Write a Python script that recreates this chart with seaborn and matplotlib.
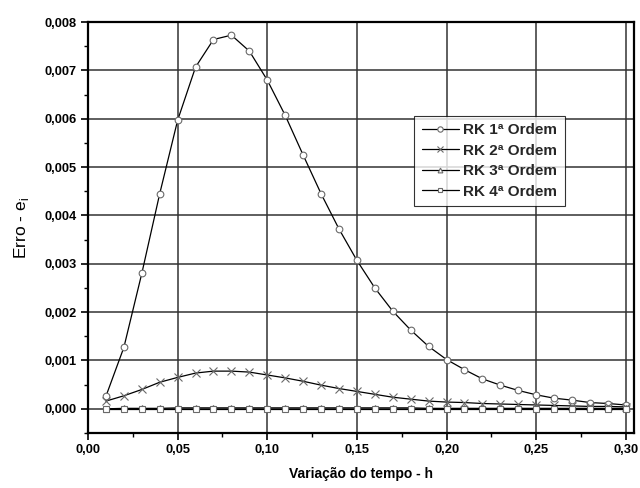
"""Erro por passo de tempo para Runge-Kutta de 1a a 4a ordem."""

import matplotlib

matplotlib.use("Agg")
import matplotlib.pyplot as plt
import pandas as pd
import seaborn as sns
from matplotlib.ticker import FuncFormatter, MultipleLocator

sns.set_theme(style="white")
plt.rcParams["font.family"] = ["Liberation Sans", "DejaVu Sans"]

H = [round(0.01 * i, 2) for i in range(1, 31)]

RK1 = [0.00026, 0.00127, 0.00280, 0.00445, 0.00597, 0.00707, 0.00764, 0.00773,
       0.00740, 0.00680, 0.00607, 0.00525, 0.00445, 0.00372, 0.00307, 0.00250,
       0.00202, 0.00163, 0.00129, 0.00102, 0.00081, 0.00062, 0.00049, 0.00038,
       0.00029, 0.00022, 0.00018, 0.00013, 0.00011, 0.00008]
RK2 = [0.00016, 0.00027, 0.00040, 0.00055, 0.00065, 0.00074, 0.00078, 0.00078,
       0.00076, 0.00070, 0.00064, 0.00057, 0.00049, 0.00042, 0.00036, 0.00030,
       0.00024, 0.00020, 0.00016, 0.00014, 0.00013, 0.00011, 0.00010, 0.00009,
       0.00008, 0.00007, 0.00006, 0.00005, 0.00005, 0.00004]
RK3 = [0.00000, 0.00001, 0.00001, 0.00001, 0.00002, 0.00002, 0.00002, 0.00002,
       0.00002, 0.00002, 0.00002, 0.00002, 0.00002, 0.00002, 0.00002, 0.00002,
       0.00002, 0.00002, 0.00001, 0.00001, 0.00001, 0.00001, 0.00001, 0.00001,
       0.00001, 0.00001, 0.00001, 0.00001, 0.00001, 0.00001]
RK4 = [0.0] * 30

SERIES = {
    "RK 1ª Ordem": (RK1, "o", 4.8),
    "RK 2ª Ordem": (RK2, "x", 5.8),
    "RK 3ª Ordem": (RK3, "^", 4.3),
    "RK 4ª Ordem": (RK4, "s", 3.8),
}


def comma(fmt):
    return FuncFormatter(lambda v, _: format(v, fmt).replace(".", ","))


def main() -> None:
    fig = plt.figure(figsize=(6.4, 4.88), dpi=100)
    ax = fig.add_axes([0.1375, 0.1127, 0.853, 0.842])

    for label, (values, marker, size) in SERIES.items():
        df = pd.DataFrame({"h": H, "erro": values})
        sns.lineplot(
            data=df, x="h", y="erro", ax=ax, color="black", linewidth=0.9,
            marker=marker, markersize=size, markerfacecolor="white",
            markeredgecolor="#6a6a6a", markeredgewidth=0.8, label=label,
        )

    ax.set_xlim(0, 0.3045)
    ax.set_ylim(-0.0005, 0.008)
    ax.xaxis.set_major_locator(MultipleLocator(0.05))
    ax.xaxis.set_minor_locator(MultipleLocator(0.025))
    ax.yaxis.set_major_locator(MultipleLocator(0.001))
    ax.yaxis.set_minor_locator(MultipleLocator(0.0005))
    ax.xaxis.set_major_formatter(comma(".2f"))
    ax.yaxis.set_major_formatter(comma(".3f"))
    ax.tick_params(which="major", direction="out", length=5, width=1.2,
                   labelsize=9.3, color="black", labelcolor="black", pad=3,
                   bottom=True, left=True)
    ax.tick_params(which="minor", direction="out", length=3, width=1.0,
                   bottom=True, left=True, color="black")
    for lab in ax.get_xticklabels() + ax.get_yticklabels():
        lab.set_fontweight("bold")

    ax.grid(True, which="major", color="#333333", linewidth=1.1)
    for spine in ax.spines.values():
        spine.set_color("black")
        spine.set_linewidth(1.6)

    ax.set_xlabel("Variação do tempo - h", fontsize=10, fontweight="bold",
                  color="black", labelpad=8)
    ax.set_ylabel(r"Erro - e$_\mathregular{i}$", fontsize=12.5, color="black",
                  labelpad=10)

    leg = ax.legend(loc="upper left", bbox_to_anchor=(0.598, 0.772),
                    frameon=True, fancybox=False, handlelength=2.4,
                    handletextpad=0.3, borderpad=0.5, labelspacing=0.42,
                    borderaxespad=0, markerscale=0.8,
                    prop={"weight": "bold", "size": 11})
    leg.get_frame().set_edgecolor("black")
    leg.get_frame().set_linewidth(0.8)

    fig.savefig("out.png", dpi=100, facecolor="white")
    plt.close(fig)


if __name__ == "__main__":
    main()
